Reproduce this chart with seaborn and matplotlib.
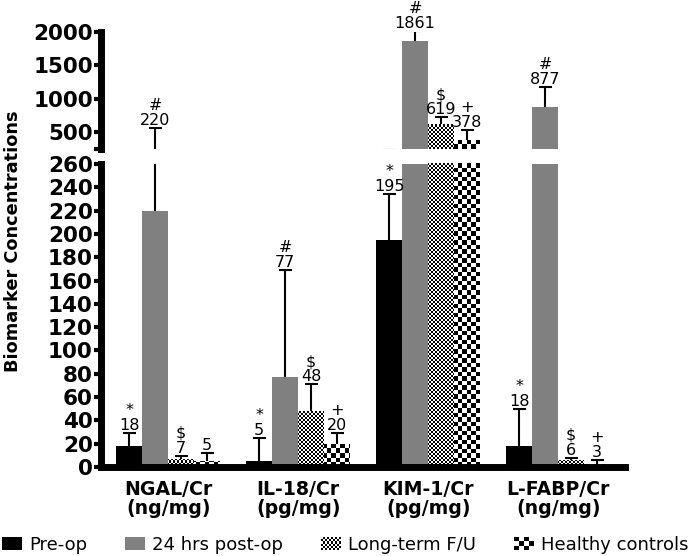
import numpy as np
import pandas as pd
import matplotlib
matplotlib.use('Agg')
import matplotlib.pyplot as plt
import seaborn as sns
from matplotlib.patches import Patch, Rectangle
from matplotlib.legend_handler import HandlerBase

# Data
markers = ['NGAL/Cr\n(ng/mg)', 'IL-18/Cr\n(pg/mg)', 'KIM-1/Cr\n(pg/mg)', 'L-FABP/Cr\n(ng/mg)']
groups = ['Pre-op', '24 hrs post-op', 'Long-term F/U', 'Healthy controls']

pre_op = [18, 5, 195, 18]
post_24h = [220, 77, 1861, 877]
long_term = [7, 48, 619, 6]
healthy = [5, 20, 378, 3]

# upper error (one-sided)
pre_op_err = [11, 20, 39, 32]
post_24h_err = [340, 92, 150, 298]
long_term_err = [2.5, 23, 108, 2]
healthy_err = [7, 9, 152, 3]

pre_op_mark = ['*', '*', '*', '*']
post_24h_mark = ['#', '#', '#', '#']
long_term_mark = ['$', '$', '$', '$']
healthy_mark = ['', '+', '+', '+']

values = [pre_op, post_24h, long_term, healthy]
errors = [pre_op_err, post_24h_err, long_term_err, healthy_err]
marks = [pre_op_mark, post_24h_mark, long_term_mark, healthy_mark]

df = pd.DataFrame({
    'marker': markers * 4,
    'group': np.repeat(groups, 4),
    'value': pre_op + post_24h + long_term + healthy,
})

sns.set_theme(style='ticks')
plt.rcParams['font.family'] = ['DejaVu Sans']
plt.rcParams.update({'axes.edgecolor': 'black', 'xtick.color': 'black',
                     'ytick.color': 'black', 'text.color': 'black'})

palette = {'Pre-op': 'black', '24 hrs post-op': '#808080',
           'Long-term F/U': 'white', 'Healthy controls': 'white'}
checker_cell = {'Long-term F/U': 2, 'Healthy controls': 4.5}

fig = plt.figure(figsize=(6.97, 5.56), dpi=100)
ax_lo = fig.add_axes([0.145, 0.160, 0.752, 0.545])
ax_hi = fig.add_axes([0.145, 0.732, 0.752, 0.2104])
lo_top = 260


def checker(ax, cell):
    bb = ax.get_window_extent()
    ny = int(round(bb.height / cell))
    nx = int(round(bb.width / cell))
    return np.indices((ny, nx)).sum(axis=0) % 2


for ax in (ax_lo, ax_hi):
    sns.barplot(data=df, x='marker', y='value', hue='group', order=markers,
                hue_order=groups, palette=palette, saturation=1, width=0.8,
                errorbar=None, legend=False, linewidth=0, ax=ax)

    for k, cont in enumerate(ax.containers):
        grp = groups[k]
        grid = checker(ax, checker_cell[grp]) if grp in checker_cell else None
        for j, bar in enumerate(cont):
            if grid is not None:
                im = ax.imshow(grid, cmap='binary', interpolation='nearest',
                               extent=(0, 1, 0, 1), transform=ax.transAxes,
                               aspect='auto', zorder=2)
                im.set_clip_path(bar)
            xc = bar.get_x() + bar.get_width() / 2
            h = bar.get_height()
            top = h + errors[k][j]
            ax.vlines(xc, h, top, color='black', lw=1.5, zorder=3)
            ax.hlines(top, xc - 0.05, xc + 0.05, color='black', lw=1.5, zorder=3)
            # value labels go in whichever panel holds the cap
            if (top > lo_top) == (ax is ax_hi):
                txt = f"{marks[k][j]}\n{values[k][j]}" if marks[k][j] else f"{values[k][j]}"
                ax.annotate(txt, xy=(xc, top), xytext=(0, 0), textcoords='offset points',
                            ha='center', va='bottom', fontsize=11.5, linespacing=1.0,
                            annotation_clip=False, zorder=4)

    ax.set_xlim(-0.516, 3.516)
    ax.set_xlabel('')
    ax.set_ylabel('')
    for s in ('top', 'right'):
        ax.spines[s].set_visible(False)
    ax.spines['left'].set_linewidth(5)
    ax.spines['bottom'].set_linewidth(5)
    ax.tick_params(axis='y', which='both', width=3, length=5, pad=1,
                   labelsize=15.5, color='black', labelcolor='black')

ax_lo.set_ylim(0, lo_top)
ax_lo.set_yticks(range(0, 261, 20))
plt.setp(ax_lo.get_yticklabels(), fontweight='bold')
ax_lo.tick_params(axis='x', length=0, pad=9, labelsize=13.6)
plt.setp(ax_lo.get_xticklabels(), fontweight='bold', linespacing=1.05)

ax_hi.set_ylim(250, 2000)
ax_hi.set_yticks([500, 1000, 1500, 2000])
ax_hi.set_yticks([250], minor=True)
plt.setp(ax_hi.get_yticklabels(), fontweight='bold')
ax_hi.spines['bottom'].set_visible(False)
ax_hi.tick_params(axis='x', bottom=False, labelbottom=False)

fig.text(0.018, 0.566, 'Biomarker Concentrations', rotation=90, ha='center',
         va='center', fontsize=12.8, fontweight='bold')


class CheckerHandler(HandlerBase):
    def __init__(self, n):
        super().__init__()
        self.n = n

    def create_artists(self, legend, orig_handle, xdescent, ydescent,
                       width, height, fontsize, trans):
        nx = self.n
        ny = max(1, int(round(nx * height / width)))
        cw, ch = width / nx, height / ny
        arts = []
        for i in range(nx):
            for j in range(ny):
                if (i + j) % 2 == 0:
                    arts.append(Rectangle((-xdescent + i * cw, -ydescent + j * ch), cw, ch,
                                          facecolor='black', edgecolor='none', transform=trans))
        return arts


h_pre = Patch(facecolor='black', edgecolor='none')
h_post = Patch(facecolor='#808080', edgecolor='none')
h_lt = Patch(facecolor='white', edgecolor='none')
h_hc = Patch(facecolor='white', edgecolor='none')
fig.legend([h_pre, h_post, h_lt, h_hc], groups, loc='center',
           bbox_to_anchor=(0.4957, 0.02), ncol=4, frameon=False, fontsize=13,
           handlelength=1.1, handleheight=0.7, handletextpad=0.4,
           columnspacing=2.1, borderpad=0, borderaxespad=0,
           handler_map={h_lt: CheckerHandler(10), h_hc: CheckerHandler(4)})

fig.savefig('out.png', dpi=100)
